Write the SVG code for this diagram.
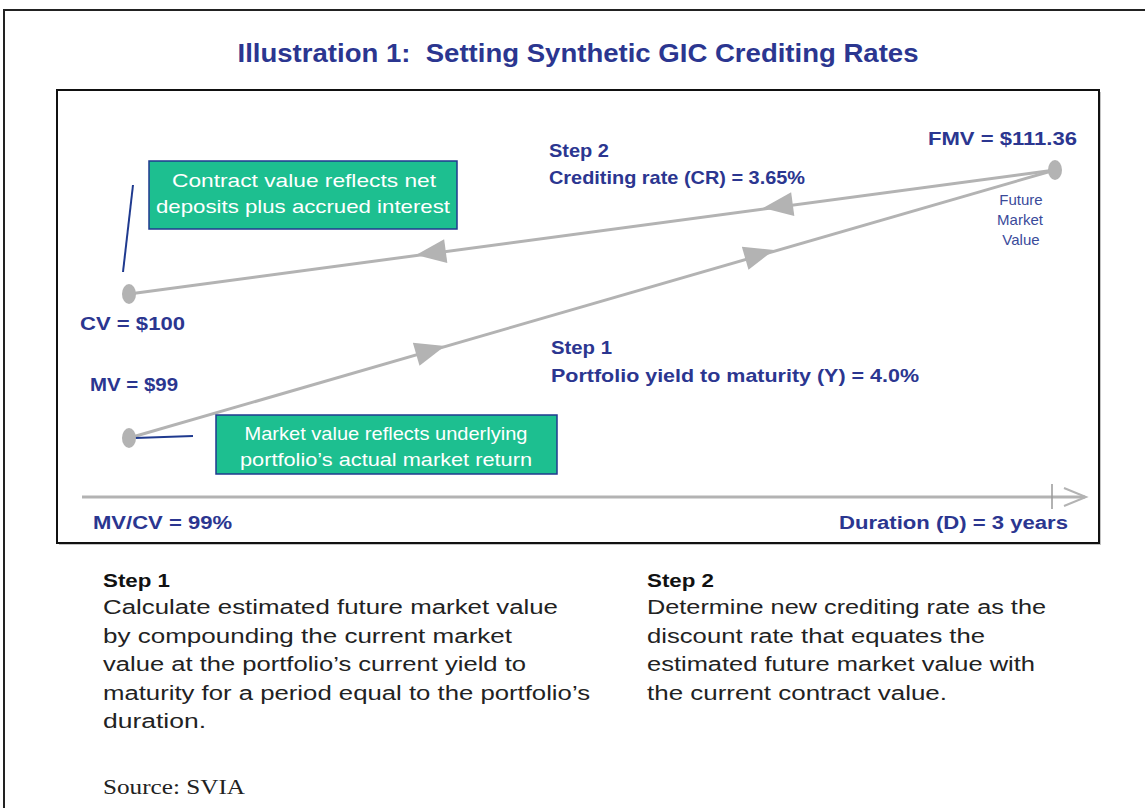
<svg xmlns="http://www.w3.org/2000/svg" width="1145" height="808" viewBox="0 0 1145 808">
<defs>
<style>
.navy{fill:#2b3690;font-family:"Liberation Sans",Arial,sans-serif;font-weight:bold;}
.lbl{font-size:19px;}
.small{fill:#3a4a9a;font-family:"Liberation Sans",Arial,sans-serif;font-size:15px;}
.wt{fill:#ffffff;font-family:"Liberation Sans",Arial,sans-serif;font-size:19px;}
.body{fill:#222;font-family:"Liberation Sans",Arial,sans-serif;font-size:20px;}
.hd{fill:#111;font-family:"Liberation Sans",Arial,sans-serif;font-size:19px;font-weight:bold;}
.gbox{fill:#1dbf90;stroke:#1f3a8f;stroke-width:1.5;}
.flow{stroke:#b3b3b3;stroke-width:3;fill:none;}
.head{fill:#b3b3b3;}
.dot{fill:#b3b3b3;}
.lead{stroke:#1f3a8f;stroke-width:2;fill:none;}
</style>
</defs>
<rect width="1145" height="808" fill="#ffffff"/>
<rect x="4" y="10" width="1150" height="810" fill="none" stroke="#222" stroke-width="2"/>
<text x="578" y="62" text-anchor="middle" class="navy" font-size="26" textLength="681" lengthAdjust="spacingAndGlyphs" xml:space="preserve">Illustration 1:  Setting Synthetic GIC Crediting Rates</text>
<rect x="59" y="92" width="1042" height="453" fill="#888" opacity="0.5"/>
<rect x="57" y="90" width="1042" height="453" fill="#ffffff" stroke="#111" stroke-width="2"/>

<g id="connectors">
<line class="flow" x1="129" y1="294" x2="1055" y2="170"/>
<line class="flow" x1="129" y1="438" x2="1055" y2="170"/>
<polygon class="head" points="0,0 30,-12 30,12" transform="translate(416,255) rotate(-7.6)"/>
<polygon class="head" points="0,0 30,-12 30,12" transform="translate(763,208) rotate(-7.6)"/>
<polygon class="head" points="0,0 -30,-12 -30,12" transform="translate(445,346) rotate(-16.1)"/>
<polygon class="head" points="0,0 -30,-12 -30,12" transform="translate(774,250) rotate(-16.1)"/>
<line class="lead" x1="123" y1="272" x2="133" y2="185"/>
<line class="lead" x1="135" y1="438" x2="193" y2="436"/>
<line x1="82" y1="497" x2="1085" y2="497" stroke="#b3b3b3" stroke-width="3"/>
<polyline points="1064,488 1086,497 1064,506" fill="none" stroke="#b3b3b3" stroke-width="2"/>
<line x1="1052" y1="484" x2="1052" y2="509" stroke="#999" stroke-width="1.5"/>
</g>

<g id="fmv">
<ellipse class="dot" cx="1055" cy="170" rx="7" ry="10"/>
<text x="928" y="145" class="navy lbl" textLength="149" lengthAdjust="spacingAndGlyphs">FMV = $111.36</text>
<text x="1021" y="205" text-anchor="middle" class="small">Future</text>
<text x="1020" y="225" text-anchor="middle" class="small">Market</text>
<text x="1021" y="245" text-anchor="middle" class="small">Value</text>
</g>
<g id="cv">
<ellipse class="dot" cx="129" cy="294" rx="7" ry="10"/>
<text x="80" y="330" class="navy lbl" textLength="105" lengthAdjust="spacingAndGlyphs">CV = $100</text>
</g>
<g id="mv">
<ellipse class="dot" cx="129" cy="438" rx="7" ry="10"/>
<text x="90" y="391" class="navy lbl" textLength="88" lengthAdjust="spacingAndGlyphs">MV = $99</text>
</g>
<g id="step2label">
<text x="549" y="157" class="navy lbl" textLength="60" lengthAdjust="spacingAndGlyphs">Step 2</text>
<text x="549" y="184" class="navy lbl" textLength="256" lengthAdjust="spacingAndGlyphs">Crediting rate (CR) = 3.65%</text>
</g>
<g id="step1label">
<text x="551" y="354" class="navy lbl" textLength="61" lengthAdjust="spacingAndGlyphs">Step 1</text>
<text x="551" y="382" class="navy lbl" textLength="368" lengthAdjust="spacingAndGlyphs">Portfolio yield to maturity (Y) = 4.0%</text>
</g>
<g id="cvbox">
<rect class="gbox" x="149" y="161" width="308" height="68"/>
<text x="304" y="187" text-anchor="middle" class="wt" textLength="264" lengthAdjust="spacingAndGlyphs">Contract value reflects net</text>
<text x="303" y="213" text-anchor="middle" class="wt" textLength="294" lengthAdjust="spacingAndGlyphs">deposits plus accrued interest</text>
</g>
<g id="mvbox">
<rect class="gbox" x="216" y="415" width="341" height="59"/>
<text x="386" y="440" text-anchor="middle" class="wt" textLength="283" lengthAdjust="spacingAndGlyphs">Market value reflects underlying</text>
<text x="386" y="466" text-anchor="middle" class="wt" textLength="292" lengthAdjust="spacingAndGlyphs">portfolio’s actual market return</text>
</g>
<g id="axis">
<text x="93" y="529" class="navy" font-size="18" textLength="139" lengthAdjust="spacingAndGlyphs">MV/CV = 99%</text>
<text x="1068" y="529" text-anchor="end" class="navy" font-size="18" textLength="229" lengthAdjust="spacingAndGlyphs">Duration (D) = 3 years</text>
</g>
<g id="desc1">
<text x="103" y="587" class="hd" textLength="67" lengthAdjust="spacingAndGlyphs">Step 1</text>
<text x="103" y="614" class="body" textLength="455" lengthAdjust="spacingAndGlyphs">Calculate estimated future market value</text>
<text x="103" y="643" class="body" textLength="409" lengthAdjust="spacingAndGlyphs">by compounding the current market</text>
<text x="103" y="671" class="body" textLength="423" lengthAdjust="spacingAndGlyphs">value at the portfolio’s current yield to</text>
<text x="103" y="700" class="body" textLength="487" lengthAdjust="spacingAndGlyphs">maturity for a period equal to the portfolio’s</text>
<text x="103" y="728" class="body" textLength="103" lengthAdjust="spacingAndGlyphs">duration.</text>
<text x="103" y="794" fill="#222" font-family="'Liberation Serif',serif" font-size="21" textLength="142" lengthAdjust="spacingAndGlyphs">Source: SVIA</text>
</g>
<g id="desc2">
<text x="647" y="587" class="hd" textLength="67" lengthAdjust="spacingAndGlyphs">Step 2</text>
<text x="647" y="614" class="body" textLength="399" lengthAdjust="spacingAndGlyphs">Determine new crediting rate as the</text>
<text x="647" y="643" class="body" textLength="338" lengthAdjust="spacingAndGlyphs">discount rate that equates the</text>
<text x="647" y="671" class="body" textLength="388" lengthAdjust="spacingAndGlyphs">estimated future market value with</text>
<text x="647" y="700" class="body" textLength="300" lengthAdjust="spacingAndGlyphs">the current contract value.</text>
</g>
</svg>
